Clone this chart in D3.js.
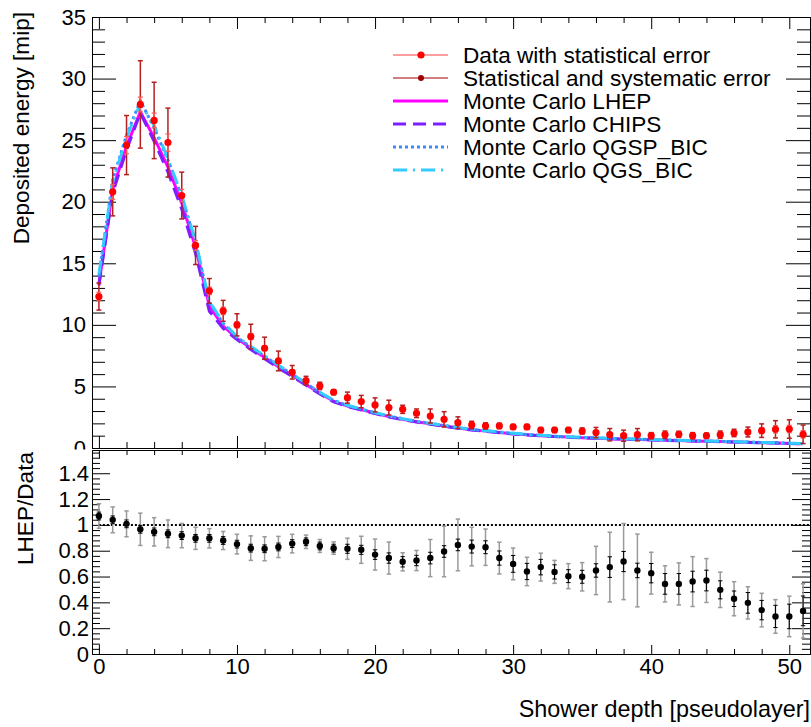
<!DOCTYPE html>
<html>
<head>
<meta charset="utf-8">
<script src="https://cdn.jsdelivr.net/npm/d3@7"></script>
<style>
  body { margin: 0; background: #fff; }
  svg { display: block; }
</style>
</head>
<body>
<svg id="chart" width="811" height="727"></svg>
<script>
// Shower depth in pseudolayers (one entry per layer)
const depth = d3.range(0, 52);

// Measured deposited energy [mip]
const dataEnergy = [12.3, 20.8, 24.6, 27.9, 26.6, 24.8, 20.5, 16.45, 12.76, 11.14, 10.0, 9.05, 8.1, 7.07, 6.15, 5.47, 5.04, 4.53, 4.09, 3.77,
  3.5, 3.28, 3.14, 2.82, 2.6, 2.33, 2.06, 1.87, 1.79, 1.79, 1.71, 1.71, 1.46, 1.46, 1.46, 1.38, 1.25, 1.08, 1.0, 1.08,
  1.0, 1.08, 1.11, 1.0, 1.0, 1.08, 1.22, 1.3, 1.41, 1.52, 1.54, 1.11];
// Statistical error on the data
const dataStatErr = [0.35, 0.6, 0.7, 0.6, 0.6, 0.7, 0.5, 0.4, 0.3, 0.3, 0.25, 0.25, 0.2, 0.2, 0.2, 0.15, 0.15, 0.12, 0.12, 0.12,
  0.12, 0.1, 0.1, 0.1, 0.1, 0.1, 0.1, 0.1, 0.1, 0.08, 0.08, 0.08, 0.08, 0.08, 0.08, 0.1, 0.12, 0.12, 0.12, 0.12,
  0.1, 0.1, 0.1, 0.1, 0.1, 0.12, 0.15, 0.18, 0.25, 0.3, 0.3, 0.3];
// Statistical and systematic error combined
const dataTotErr = [1.1, 1.95, 2.4, 3.55, 3.1, 2.8, 1.9, 1.55, 1.0, 0.85, 0.9, 1.0, 0.9, 0.8, 0.55, 0.35, 0.3, 0.2, 0.45, 0.5,
  0.57, 0.6, 0.33, 0.35, 0.57, 0.62, 0.47, 0.3, 0.25, 0.22, 0.2, 0.2, 0.2, 0.2, 0.2, 0.25, 0.42, 0.5, 0.45, 0.5,
  0.25, 0.3, 0.25, 0.25, 0.2, 0.3, 0.3, 0.4, 0.55, 0.7, 0.75, 0.75];

// Monte Carlo predictions [mip]
const mcLHEP = [13.3, 21.0, 24.5, 27.3, 25.2, 22.8, 19.9, 16.3, 11.5, 9.9, 8.9, 8.1, 7.35, 6.6, 5.9, 5.15, 4.45, 3.8, 3.4, 3.12,
  2.82, 2.55, 2.33, 2.14, 1.96, 1.79, 1.62, 1.48, 1.37, 1.26, 1.16, 1.07, 0.99, 0.94, 0.89, 0.84, 0.8, 0.76, 0.72, 0.7,
  0.66, 0.63, 0.6, 0.57, 0.55, 0.52, 0.49, 0.46, 0.43, 0.4, 0.37, 0.34];
const mcCHIPS = [13.2, 20.7, 24.2, 27.2, 24.9, 22.4, 19.4, 15.8, 11.1, 9.7, 8.8, 8.0, 7.25, 6.5, 5.82, 5.1, 4.38, 3.75, 3.36, 3.08,
  2.79, 2.52, 2.3, 2.11, 1.93, 1.77, 1.6, 1.46, 1.35, 1.24, 1.14, 1.06, 0.98, 0.93, 0.88, 0.83, 0.79, 0.75, 0.72, 0.69,
  0.65, 0.62, 0.59, 0.57, 0.54, 0.51, 0.48, 0.45, 0.43, 0.4, 0.37, 0.34];
const mcQGSP_BIC = [13.9, 21.8, 25.4, 28.2, 26.0, 23.4, 20.4, 16.7, 11.8, 10.1, 9.0, 8.2, 7.45, 6.7, 5.98, 5.25, 4.5, 3.86, 3.45, 3.16,
  2.86, 2.6, 2.38, 2.18, 2.0, 1.83, 1.66, 1.51, 1.4, 1.29, 1.19, 1.1, 1.02, 0.96, 0.9, 0.86, 0.82, 0.78, 0.75, 0.72,
  0.68, 0.65, 0.62, 0.59, 0.57, 0.54, 0.51, 0.48, 0.45, 0.42, 0.39, 0.36];
const mcQGS_BIC = [14.1, 21.6, 25.2, 28.0, 26.2, 23.5, 20.5, 16.8, 11.9, 10.2, 9.05, 8.25, 7.5, 6.72, 6.0, 5.28, 4.52, 3.88, 3.47, 3.17,
  2.87, 2.6, 2.38, 2.18, 2.0, 1.83, 1.66, 1.52, 1.41, 1.3, 1.2, 1.11, 1.03, 0.96, 0.91, 0.87, 0.83, 0.79, 0.75, 0.72,
  0.69, 0.66, 0.63, 0.6, 0.57, 0.54, 0.51, 0.48, 0.45, 0.42, 0.39, 0.36];

// LHEP / Data ratio with statistical and total errors
const ratio = [1.069, 1.039, 1.008, 0.966, 0.946, 0.931, 0.917, 0.896, 0.896, 0.879, 0.851, 0.82, 0.815, 0.829, 0.855, 0.869, 0.837, 0.82, 0.815, 0.807,
  0.77, 0.743, 0.714, 0.724, 0.743, 0.794, 0.845, 0.832, 0.827, 0.743, 0.698, 0.639, 0.673, 0.636, 0.603, 0.598, 0.647, 0.673, 0.716, 0.647,
  0.626, 0.543, 0.543, 0.561, 0.569, 0.497, 0.428, 0.396, 0.34, 0.291, 0.291, 0.334];
const ratioStatErr = [0.03, 0.03, 0.03, 0.03, 0.03, 0.03, 0.03, 0.03, 0.03, 0.03, 0.03, 0.03, 0.03, 0.03, 0.03, 0.03, 0.03, 0.03, 0.035, 0.035,
  0.037, 0.04, 0.04, 0.04, 0.045, 0.045, 0.045, 0.05, 0.05, 0.055, 0.065, 0.063, 0.06, 0.055, 0.05, 0.05, 0.052, 0.08, 0.078, 0.056,
  0.075, 0.08, 0.08, 0.08, 0.08, 0.07, 0.06, 0.08, 0.075, 0.086, 0.095, 0.115];
const ratioTotErr = [0.095, 0.1, 0.1, 0.125, 0.11, 0.107, 0.094, 0.086, 0.075, 0.07, 0.076, 0.095, 0.093, 0.082, 0.072, 0.052, 0.05, 0.048, 0.082, 0.105,
  0.12, 0.124, 0.07, 0.078, 0.144, 0.196, 0.2, 0.149, 0.141, 0.123, 0.123, 0.11, 0.108, 0.089, 0.097, 0.11, 0.187, 0.27, 0.295, 0.282,
  0.162, 0.14, 0.163, 0.193, 0.17, 0.137, 0.132, 0.125, 0.13, 0.13, 0.157, 0.21];

// Axis ticks and labels
const xMajorTicks = [0, 10, 20, 30, 40, 50];
const energyTicks = [0, 5, 10, 15, 20, 25, 30, 35];
const ratioTicks = [0, 0.2, 0.4, 0.6, 0.8, 1.0, 1.2, 1.4];
const ratioTickLabels = ["0", "0.2", "0.4", "0.6", "0.8", "1", "1.2", "1.4"];

// Legend entries
const legendLabels = ["Data with statistical error", "Statistical and systematic error", "Monte Carlo LHEP",
  "Monte Carlo CHIPS", "Monte Carlo QGSP_BIC", "Monte Carlo QGS_BIC"];

const FONT = "'Liberation Sans', Arial, Helvetica, sans-serif";
const svg = d3.select("#chart");

// Scales
const x = d3.scaleLinear().domain([-0.5, 51.5]).range([92, 810]);
const yTop = d3.scaleLinear().domain([0, 35]).range([448, 17]);
const yBot = d3.scaleLinear().domain([0, 1.58]).range([654, 450]);

// Generic inward-tick axis helper
function axis(gen, scale, values, len, transform, fmt, pad) {
  const a = gen(scale).tickValues(values).tickSize(-len).tickSizeOuter(0).tickPadding(pad || 0)
    .tickFormat(fmt || (() => ""));
  const g = svg.append("g").attr("transform", transform).call(a);
  g.selectAll("text").attr("font-size", 22).attr("font-family", FONT).attr("fill", "#000");
  g.selectAll("line,path").attr("stroke", "#000").attr("stroke-width", 1);
  return g;
}

const xMinor = d3.range(2, 52, 2).filter(v => v % 10 !== 0 && v <= 51.5);
const topMinor = d3.range(0, 36, 1).filter(v => v % 5 !== 0);
const botMinor = d3.range(0, 40).map(k => +(k * 0.04).toFixed(2)).filter(v => v < 1.58 && Math.abs(v / 0.2 - Math.round(v / 0.2)) > 1e-6);

// ---------------- Upper panel ----------------
axis(d3.axisLeft, yTop, energyTicks, 24, "translate(92,0)", d => String(d), 6);
axis(d3.axisLeft, yTop, topMinor, 13, "translate(92,0)");
axis(d3.axisRight, yTop, energyTicks, 24, "translate(810,0)");
axis(d3.axisRight, yTop, topMinor, 13, "translate(810,0)");
axis(d3.axisBottom, x, xMajorTicks, 12, "translate(0,448)");
axis(d3.axisBottom, x, xMinor, 6, "translate(0,448)");
axis(d3.axisTop, x, xMajorTicks, 12, "translate(0,17)");
axis(d3.axisTop, x, xMinor, 6, "translate(0,17)");

// Monte Carlo curves
const mcSeries = [
  { values: mcLHEP, color: "#ff00ff", dash: null },
  { values: mcCHIPS, color: "#7f1fff", dash: "13,7" },
  { values: mcQGSP_BIC, color: "#3a8cff", dash: "3,3" },
  { values: mcQGS_BIC, color: "#33ccff", dash: "14,6,2,6" }
];
const line = d3.line().x((d, i) => x(depth[i])).y(d => yTop(d));
mcSeries.forEach(s => {
  svg.append("path").attr("d", line(s.values)).attr("fill", "none")
    .attr("stroke", s.color).attr("stroke-width", 3)
    .attr("stroke-dasharray", s.dash);
});

// Data error bars and points
function errorBar(g, xv, yv, err, yScale, color, width, cap) {
  const x0 = x(xv), y1 = yScale(yv - err), y2 = yScale(yv + err);
  g.append("line").attr("x1", x0).attr("x2", x0).attr("y1", y1).attr("y2", y2)
    .attr("stroke", color).attr("stroke-width", width);
  [y1, y2].forEach(yy => g.append("line").attr("x1", x0 - cap).attr("x2", x0 + cap)
    .attr("y1", yy).attr("y2", yy).attr("stroke", color).attr("stroke-width", width));
}
const dataG = svg.append("g");
depth.forEach((d, i) => errorBar(dataG, d, dataEnergy[i], dataTotErr[i], yTop, "#b32020", 1.5, 2.5));
depth.forEach((d, i) => errorBar(dataG, d, dataEnergy[i], dataStatErr[i], yTop, "#ff5a5a", 1.2, 2.5));
dataG.selectAll("circle").data(depth).join("circle")
  .attr("cx", d => x(d)).attr("cy", (d, i) => yTop(dataEnergy[i])).attr("r", 3.6).attr("fill", "#ff0000");

// Legend
const legend = svg.append("g");
const legY = i => 55 + i * 23;
legendLabels.forEach((t, i) => {
  const yy = legY(i);
  const ln = legend.append("line").attr("x1", 393).attr("x2", 448).attr("y1", yy).attr("y2", yy);
  if (i === 0) ln.attr("stroke", "#ff7f7f").attr("stroke-width", 1.5);
  else if (i === 1) ln.attr("stroke", "#a00000").attr("stroke-width", 1.2);
  else {
    const s = mcSeries[i - 2];
    ln.attr("stroke", s.color).attr("stroke-width", 3).attr("stroke-dasharray", s.dash);
  }
  if (i === 0) legend.append("circle").attr("cx", 421).attr("cy", yy).attr("r", 3.6).attr("fill", "#ff0000");
  if (i === 1) legend.append("circle").attr("cx", 421).attr("cy", yy).attr("r", 3).attr("fill", "#a00000");
  legend.append("text").attr("x", 463).attr("y", yy).attr("dy", "0.35em")
    .attr("font-family", FONT).attr("font-size", 22.6).text(t);
});

// Upper y title
svg.append("text").attr("transform", "translate(29,12) rotate(-90)")
  .attr("text-anchor", "end").attr("font-family", FONT).attr("font-size", 22.6)
  .text("Deposited energy [mip]");

// ---------------- Lower panel ----------------
svg.append("rect").attr("x", 0).attr("y", 449.5).attr("width", 811).attr("height", 278).attr("fill", "#fff");

axis(d3.axisLeft, yBot, ratioTicks, 18, "translate(92,0)", (d, i) => ratioTickLabels[i], 3);
axis(d3.axisLeft, yBot, botMinor, 8, "translate(92,0)");
axis(d3.axisRight, yBot, ratioTicks, 18, "translate(810,0)");
axis(d3.axisRight, yBot, botMinor, 8, "translate(810,0)");
axis(d3.axisBottom, x, xMajorTicks, 9, "translate(0,654)", d => String(d), 4);
axis(d3.axisBottom, x, xMinor, 5, "translate(0,654)");
axis(d3.axisTop, x, xMajorTicks, 8, "translate(0,450)");
axis(d3.axisTop, x, xMinor, 5, "translate(0,450)");

// Reference line at ratio 1
svg.append("line").attr("x1", x(0)).attr("x2", 810).attr("y1", yBot(1)).attr("y2", yBot(1))
  .attr("stroke", "#000").attr("stroke-width", 2).attr("stroke-dasharray", "2,2");

const ratioG = svg.append("g");
depth.forEach((d, i) => errorBar(ratioG, d, ratio[i], ratioTotErr[i], yBot, "#9a9a9a", 1.5, 2.2));
depth.forEach((d, i) => errorBar(ratioG, d, ratio[i], ratioStatErr[i], yBot, "#000", 1, 2.2));
ratioG.selectAll("circle").data(depth).join("circle")
  .attr("cx", d => x(d)).attr("cy", (d, i) => yBot(ratio[i])).attr("r", 3.2).attr("fill", "#000");

// Lower titles
svg.append("text").attr("transform", "translate(33,452) rotate(-90)")
  .attr("text-anchor", "end").attr("font-family", FONT).attr("font-size", 22.6)
  .text("LHEP/Data");
svg.append("text").attr("x", 810).attr("y", 717).attr("text-anchor", "end")
  .attr("font-family", FONT).attr("font-size", 23.4).text("Shower depth [pseudolayer]");
</script>
</body>
</html>
